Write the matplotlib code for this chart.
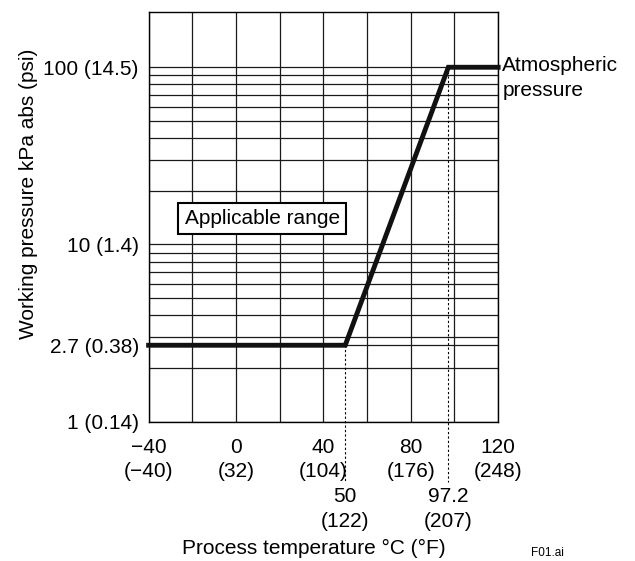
import matplotlib.pyplot as plt
import matplotlib.transforms as mtransforms

plt.rcParams['font.family'] = ['Liberation Sans', 'DejaVu Sans']

# boundary of the applicable range (temperature in °C, pressure in kPa abs)
temp_c = [-40, 50, 97.2, 120]
pressure_kpa = [2.7, 2.7, 100, 100]

x_ticks = [-40, 0, 40, 80, 120]
x_tick_labels = ['\u221240\n(\u221240)', '0\n(32)', '40\n(104)', '80\n(176)', '120\n(248)']
x_grid = [-40, -20, 0, 20, 40, 60, 80, 100, 120]

y_ticks = [1, 2.7, 10, 100]
y_tick_labels = ['1 (0.14)', '2.7 (0.38)', '10 (1.4)', '100 (14.5)']
y_grid = [2, 3, 4, 5, 6, 7, 8, 9, 20, 30, 40, 50, 60, 70, 80, 90]

# marked temperatures below the axis
mark_temps = [50, 97.2]
mark_pressures = [2.7, 100]
mark_labels = ['50\n(122)', '97.2\n(207)']

fig = plt.figure(figsize=(6.35, 5.61), dpi=100)
ax = fig.add_axes([0.234, 0.2483, 0.5505, 0.7303])

ax.set_yscale('log')
ax.set_xlim(-40, 120)
ax.set_ylim(1, 205)

ax.set_xticks(x_ticks)
ax.set_xticklabels(x_tick_labels)
ax.set_xticks(x_grid, minor=True)
ax.set_yticks(y_ticks)
ax.set_yticklabels(y_tick_labels)
ax.set_yticks(y_grid, minor=True)
ax.yaxis.set_minor_formatter(plt.NullFormatter())
ax.tick_params(which='both', length=0, labelsize=15)
ax.tick_params(axis='x', pad=12)
ax.tick_params(axis='y', pad=7)
for lab in ax.get_xticklabels():
    lab.set_linespacing(1.34)

ax.grid(which='both', color='#1a1a1a', linewidth=0.9)
ax.set_axisbelow(True)
for s in ax.spines.values():
    s.set_linewidth(1.0)

ax.plot(temp_c, pressure_kpa, color='#111111', linewidth=3.5, solid_joinstyle='miter',
        clip_on=False, zorder=5)

# dotted guides down to the extra labels
for t, p in zip(mark_temps, mark_pressures):
    ax.plot([t, t], [p, 0.456], color='black', linestyle=(0, (2, 2)), linewidth=0.8,
            clip_on=False, zorder=4)

trans = mtransforms.blended_transform_factory(ax.transData, ax.transAxes)
for t, lab in zip(mark_temps, mark_labels):
    ax.text(t, -0.213, lab, transform=trans, ha='center', va='center', fontsize=15,
            linespacing=1.34)

trans_y = mtransforms.blended_transform_factory(ax.transAxes, ax.transData)
ax.text(1.012, 87, 'Atmospheric\npressure', transform=trans_y, ha='left', va='center',
        fontsize=15, linespacing=1.34)

ax.text(12, 14, 'Applicable range', ha='center', va='center', fontsize=15, zorder=6,
        bbox=dict(boxstyle='square,pad=0.3', facecolor='white', edgecolor='black',
                  linewidth=1.5))

fig.text(0.0441, 0.654, 'Working pressure kPa abs (psi)', rotation=90, ha='center',
         va='center', fontsize=15)
fig.text(0.494, 0.023, 'Process temperature \u00b0C (\u00b0F)', ha='center', va='center',
         fontsize=15)
fig.text(0.836, 0.014, 'F01.ai', ha='left', va='center', fontsize=8.5)

fig.savefig('out.png', dpi=100)
